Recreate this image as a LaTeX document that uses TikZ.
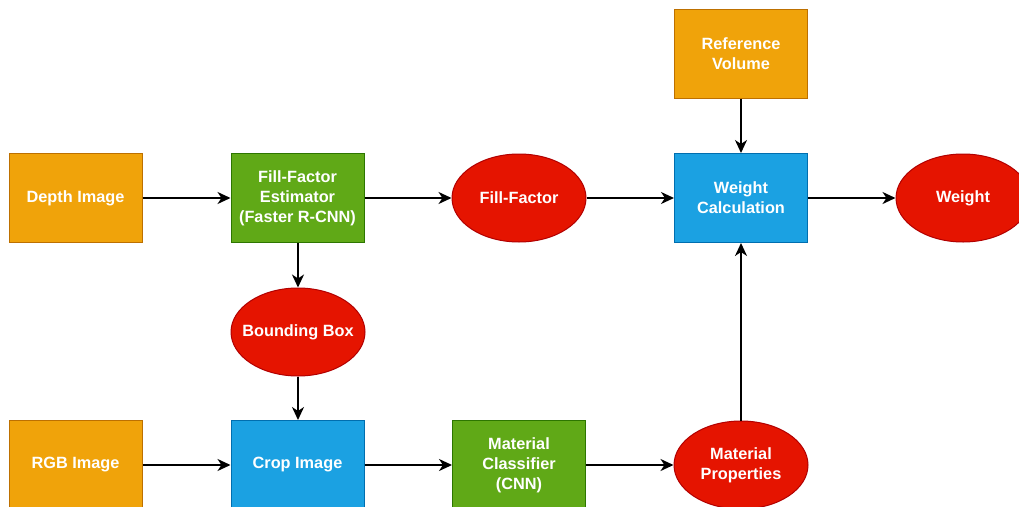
\documentclass[tikz,border=0pt]{standalone}
\usepackage{fontspec}
\setmainfont{Liberation Sans}
\usetikzlibrary{shapes.geometric,arrows.meta}
\definecolor{oFill}{HTML}{F0A30A}\definecolor{oLine}{HTML}{BD7000}
\definecolor{gFill}{HTML}{60A917}\definecolor{gLine}{HTML}{2D7600}
\definecolor{bFill}{HTML}{1BA1E2}\definecolor{bLine}{HTML}{006EAF}
\definecolor{rFill}{HTML}{E51400}\definecolor{rLine}{HTML}{B20000}
\tikzset{
  base/.style={text=white, font=\fontsize{16.3}{20}\selectfont\bfseries, align=center, inner sep=0pt, line width=1pt},
  box/.style={base, rectangle, minimum width=133pt, minimum height=89pt},
  orangebox/.style={box, fill=oFill, draw=oLine},
  greenbox/.style={box, fill=gFill, draw=gLine},
  bluebox/.style={box, fill=bFill, draw=bLine},
  redell/.style={base, ellipse, minimum width=134pt, minimum height=88pt, fill=rFill, draw=rLine},
  conn/.style={line width=2pt, -{Stealth[length=13pt,width=12pt,inset=4pt]}}
}
\begin{document}
\begin{tikzpicture}[x=1pt,y=-1pt]
\useasboundingbox (0,0) rectangle (1019,506);
\clip (0,0) rectangle (1019,506);
\fill[white] (0,0) rectangle (1019,506);
\node[orangebox] (depth) at (75.5,198) {Depth Image};
\node[greenbox] (ffe) at (297.5,198) {Fill-Factor\\Estimator\\(Faster R-CNN)};
\node[redell] (ff) at (519,198) {Fill-Factor};
\node[bluebox] (wc) at (741,198) {Weight\\Calculation};
\node[redell] (w) at (963,198) {Weight};
\node[orangebox] (ref) at (741,53.5) {Reference\\Volume};
\node[redell] (bb) at (298,332) {\makebox[0pt]{Bounding Box}};
\node[orangebox] (rgb) at (75.5,465) {RGB Image};
\node[bluebox] (crop) at (297.5,465) {Crop Image};
\node[greenbox] (mc) at (519,465) {Material\\Classifier\\(CNN)};
\node[redell] (mp) at (741,465) {Material\\Properties};
\draw[conn] (depth) -- (ffe);
\draw[conn] (ffe) -- (ff);
\draw[conn] (ff) -- (wc);
\draw[conn] (wc) -- (w);
\draw[conn] (ref) -- (wc);
\draw[conn] (ffe.south -| bb) -- (bb);
\draw[conn] (bb) -- (crop.north -| bb);
\draw[conn] (rgb) -- (crop);
\draw[conn] (crop) -- (mc);
\draw[conn] (mc) -- (mp);
\draw[conn] (mp) -- (wc);
\end{tikzpicture}
\end{document}
